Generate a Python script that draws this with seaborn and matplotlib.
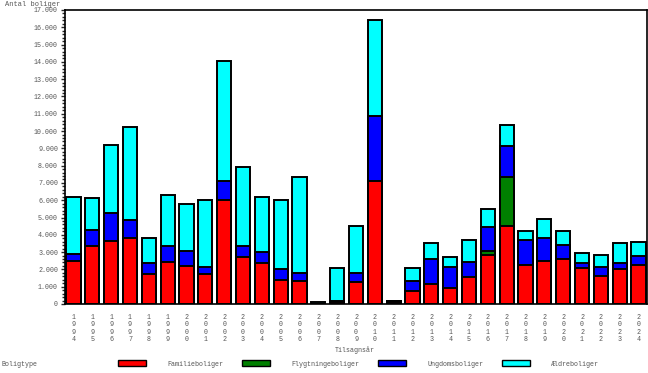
import seaborn as sns
import pandas as pd
import matplotlib.pyplot as plt
from matplotlib.ticker import MultipleLocator, FuncFormatter
from matplotlib.patches import Patch

years = [str(y) for y in range(1994, 2025)]
familieboliger = [2460, 3340, 3630, 3800, 1760, 2400, 2170, 1760, 6020, 2720, 2370,
                  1380, 1320, 0, 100, 1260, 7140, 120, 740, 1150, 910, 1550, 2830,
                  4520, 2250, 2490, 2600, 2080, 1610, 2020, 2250]
flygtningeboliger = [0, 0, 0, 0, 0, 0, 0, 0, 0, 0, 0, 0, 0, 0, 0, 0, 0, 0, 0, 0, 0, 0,
                     220, 2850, 0, 0, 0, 0, 0, 0, 0]
ungdomsboliger = [430, 950, 1650, 1070, 590, 940, 900, 380, 1120, 640, 640, 640, 470,
                  0, 100, 530, 3730, 40, 580, 1450, 1230, 880, 1410, 1750, 1460, 1330,
                  820, 290, 530, 350, 530]
aeldreboliger = [3300, 1840, 3920, 5350, 1450, 2960, 2710, 3870, 6930, 4540, 3200, 4010,
                 5530, 100, 1880, 2730, 5580, 40, 760, 930, 580, 1280, 1050, 1220, 520,
                 1110, 810, 580, 690, 1160, 810]

types = ['Familieboliger', 'Flygtningeboliger', 'Ungdomsboliger', 'Ældreboliger']
colors = ['#ff0000', '#008000', '#0000ff', '#00ffff']

df = pd.DataFrame({'year': years, 'Familieboliger': familieboliger,
                   'Flygtningeboliger': flygtningeboliger,
                   'Ungdomsboliger': ungdomsboliger, 'Ældreboliger': aeldreboliger})
# cumulative tops, drawn from the tallest down so each layer covers the one below
cum = df[types].cumsum(axis=1)
df['label'] = ['\n'.join(y) for y in years]

sns.set_style('white')
plt.rcParams['font.family'] = ['Liberation Mono', 'DejaVu Sans Mono']
grey = '#555555'

fig = plt.figure(figsize=(6.48, 3.73), dpi=100)
ax = fig.add_axes([65 / 648, 1 - 304 / 373, 582 / 648, 294 / 373])

for t, c in reversed(list(zip(types, colors))):
    sns.barplot(x=df['label'], y=cum[t], order=df['label'], color=c, saturation=1,
                width=0.75, edgecolor='black', linewidth=1.4, ax=ax)

ax.set_xlim(-0.45, 30.45)
ax.set_ylim(0, 17000)
ax.yaxis.set_major_locator(MultipleLocator(1000))
ax.yaxis.set_minor_locator(MultipleLocator(200))
ax.yaxis.set_major_formatter(FuncFormatter(lambda v, p: f'{int(v):,}'.replace(',', '.')))
ax.tick_params(axis='y', which='major', left=True, length=3, width=1, labelsize=4.8,
               labelcolor=grey, pad=2)
ax.tick_params(axis='y', which='minor', left=True, length=2, width=1)
ax.tick_params(axis='x', length=0, labelsize=4.8, labelcolor=grey, pad=7)
for lbl in ax.get_xticklabels():
    lbl.set_linespacing(1.1)
for s in ax.spines.values():
    s.set_visible(True)
    s.set_color('black')
    s.set_linewidth(1.2)
ax.set_xlabel('')
ax.set_ylabel('')

fig.text(5 / 648, 1 - 4 / 373, 'Antal boliger', fontsize=5, color=grey, va='center')
fig.text(355 / 648, 1 - 350 / 373, 'Tilsagnsår', fontsize=4.8, color=grey,
         va='center', ha='center')
fig.text(2 / 648, 1 - 365 / 373, 'Boligtype', fontsize=4.8, color=grey, va='center')

handles = [Patch(facecolor=c, edgecolor='black', linewidth=1, label=t)
           for t, c in zip(types, colors)]
leg = fig.legend(handles=handles, loc='center left', bbox_to_anchor=(112 / 648, 1 - 364 / 373),
                 ncol=4, frameon=False, fontsize=4.8, handlelength=4.2, handleheight=0.9,
                 handletextpad=3.2, columnspacing=2.8)
for txt in leg.get_texts():
    txt.set_color(grey)

fig.savefig('out.png', dpi=100)
